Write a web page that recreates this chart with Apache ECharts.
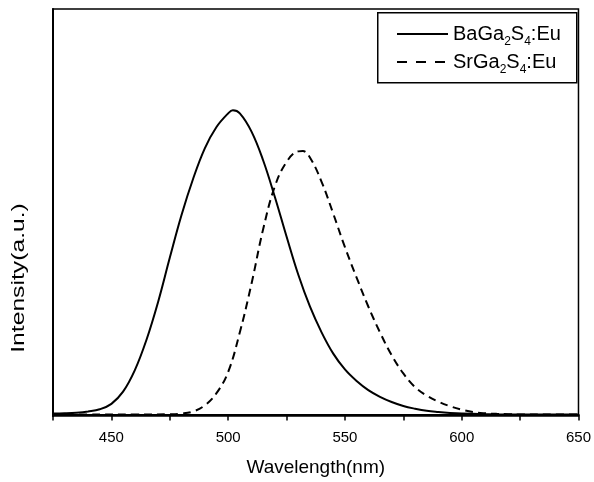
<!DOCTYPE html>
<html>
<head>
<meta charset="utf-8">
<script src="https://cdn.jsdelivr.net/npm/echarts@6/dist/echarts.min.js"></script>
<style>
html,body{margin:0;padding:0;background:#fff;}
#chart{width:594px;height:482px;}
</style>
</head>
<body>
<div id="chart"></div>
<script>
// ---- data ----
var seriesNames = ['BaGa2S4:Eu', 'SrGa2S4:Eu'];
var xTickLabels = [450, 500, 550, 600, 650];

var baWavelength = [425,430,435,440,445,450,455,460,465,470,475,480,485,490,495,500,502,505,510,515,520,525,530,535,540,545,550,555,560,565,570,575,580,585,590,595,600,610,620,635,650];
var baIntensity  = [0.003,0.004,0.006,0.010,0.017,0.035,0.075,0.145,0.245,0.370,0.515,0.655,0.775,0.875,0.945,0.990,1.000,0.990,0.930,0.835,0.715,0.585,0.460,0.355,0.270,0.200,0.148,0.110,0.080,0.058,0.041,0.028,0.019,0.012,0.008,0.005,0.003,0.001,0,0,0];

var srWavelength = [425,440,460,475,480,485,490,495,500,505,510,515,520,525,530,532,535,540,545,550,555,560,565,570,575,580,585,590,595,600,605,610,615,620,625,635,650];
var srIntensity  = [0,0,0,0.001,0.003,0.010,0.030,0.070,0.140,0.270,0.430,0.610,0.750,0.830,0.865,0.866,0.845,0.765,0.660,0.550,0.450,0.355,0.270,0.195,0.135,0.090,0.062,0.042,0.027,0.016,0.008,0.004,0.002,0.001,0,0,0];

function pairs(xs, ys) { return xs.map(function (x, i) { return [x, ys[i]]; }); }

var FONT = '"Liberation Sans", Arial, sans-serif';
var chart = echarts.init(document.getElementById('chart'), null, {renderer: 'canvas'});

var option = {
  animation: false,
  backgroundColor: '#fff',
  grid: {left: 53, right: 13, top: 9, bottom: 66, show: true, borderColor: '#000', borderWidth: 1.5, containLabel: false},
  xAxis: {
    type: 'value', min: 425, max: 650, interval: 25,
    name: 'Wavelength(nm)', nameLocation: 'middle', nameGap: 42,
    nameTextStyle: {fontFamily: FONT, fontSize: 19, color: '#000'},
    axisLine: {show: true, lineStyle: {color: '#000', width: 2}},
    axisTick: {show: true, length: 6, lineStyle: {color: '#000', width: 1.5}},
    axisLabel: {
      color: '#000', fontFamily: FONT, fontSize: 15, margin: 14,
      formatter: function (v) { return xTickLabels.indexOf(v) >= 0 ? String(v) : ''; }
    },
    splitLine: {show: false}
  },
  yAxis: {
    type: 'value', min: -0.005, max: 1.333,
    axisLine: {show: true, lineStyle: {color: '#000', width: 2}},
    axisTick: {show: false}, axisLabel: {show: false}, splitLine: {show: false}
  },
  legend: {
    orient: 'vertical', left: 396, top: 20, padding: 0,
    itemWidth: 51, itemHeight: 12, itemGap: 0,
    itemStyle: {opacity: 0},
    data: [
      {name: seriesNames[0]},
      {name: seriesNames[1], lineStyle: {type: [10, 9]}}
    ],
    formatter: function (name) {
      return name.replace(/Ga2S4/, 'Ga{s|2}S{s|4}');
    },
    textStyle: {
      fontFamily: FONT, fontSize: 20, color: '#000', lineHeight: 20,
      rich: {s: {fontFamily: FONT, fontSize: 12, lineHeight: 20, padding: [16, 0, 0, 0], color: '#000'}}
    }
  },
  graphic: [
    {type: 'rect', left: 377, top: 12, z: 0, shape: {width: 199, height: 70}, style: {fill: '#fff', stroke: '#000', lineWidth: 1.5}},
    {type: 'text', x: 19, y: 278, rotation: Math.PI / 2, scaleX: 1.3, z: 10,
     style: {text: 'Intensity(a.u.)', fontFamily: FONT, fontSize: 19, fill: '#000', align: 'center', verticalAlign: 'middle'}}
  ],
  series: [
    {name: seriesNames[0], type: 'line', data: pairs(baWavelength, baIntensity), smooth: 0.4, symbol: 'none',
     lineStyle: {color: '#000', width: 2, type: 'solid'}, itemStyle: {color: '#000'}},
    {name: seriesNames[1], type: 'line', data: pairs(srWavelength, srIntensity), smooth: 0.4, symbol: 'none',
     lineStyle: {color: '#000', width: 2, type: [8, 5]}, itemStyle: {color: '#000'}}
  ]
};
chart.setOption(option);
</script>
</body>
</html>
